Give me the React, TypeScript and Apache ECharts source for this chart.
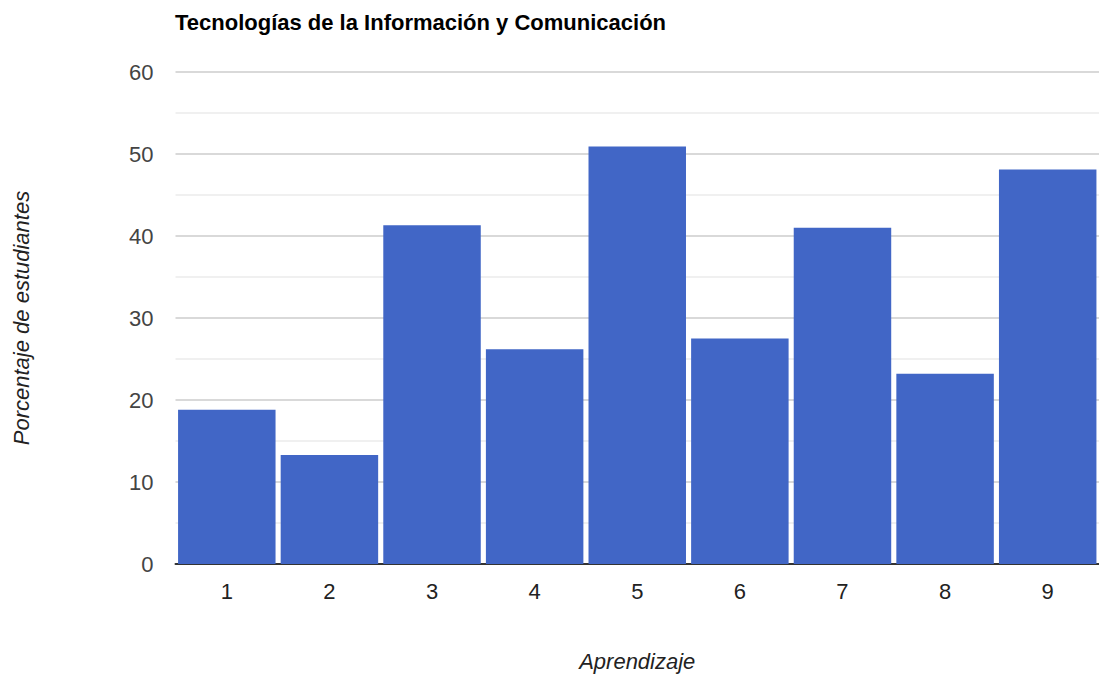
import React, { useEffect, useRef } from "react";
import * as echarts from "echarts";

const categories = ["1", "2", "3", "4", "5", "6", "7", "8", "9"];
const values = [18.8, 13.3, 41.3, 26.2, 50.9, 27.5, 41.0, 23.2, 48.1];
const titleText = "Tecnologías de la Información y Comunicación";
const xName = "Aprendizaje";
const yName = "Porcentaje de estudiantes";

export default function App() {
  const ref = useRef<HTMLDivElement>(null);
  useEffect(() => {
    if (!ref.current) return;
    const chart = echarts.init(ref.current, undefined, { renderer: "svg" });
    const font = "Liberation Sans, Arial, sans-serif";
    chart.setOption({
      animation: false,
      backgroundColor: "#ffffff",
      title: {
        text: titleText,
        left: 175,
        top: 11,
        padding: 0,
        textStyle: { fontFamily: font, fontSize: 22, fontWeight: "bold", color: "#000" },
      },
      grid: { left: 175.5, top: 72, width: 927, bottom: 110 },
      xAxis: {
        type: "category",
        data: categories,
        name: xName,
        nameLocation: "middle",
        nameGap: 86,
        nameTextStyle: { fontFamily: font, fontSize: 22, fontStyle: "italic", color: "#222" },
        axisLine: { lineStyle: { color: "#333", width: 2 } },
        axisTick: { show: false },
        axisLabel: { fontFamily: font, fontSize: 22, color: "#222", margin: 16 },
      },
      yAxis: {
        type: "value",
        min: 0,
        max: 60,
        interval: 10,
        name: yName,
        nameLocation: "middle",
        nameGap: 143,
        nameRotate: 90,
        nameTextStyle: { fontFamily: font, fontSize: 22, fontStyle: "italic", color: "#222" },
        axisLine: { show: false },
        axisTick: { show: false },
        axisLabel: { fontFamily: font, fontSize: 22, color: "#444", margin: 22 },
        splitLine: { lineStyle: { color: "#cccccc", width: 1.5 } },
        minorTick: { show: false, splitNumber: 2 },
        minorSplitLine: { show: true, lineStyle: { color: "#ebebeb", width: 1.5 } },
      },
      series: [
        {
          type: "bar",
          data: values,
          barCategoryGap: "5%",
          itemStyle: { color: "#4166c6" },
        },
      ],
    });
    return () => chart.dispose();
  }, []);
  return (
    <div
      ref={ref}
      style={{ position: "absolute", left: 0, top: 0, width: 1099, height: 677 }}
    />
  );
}
